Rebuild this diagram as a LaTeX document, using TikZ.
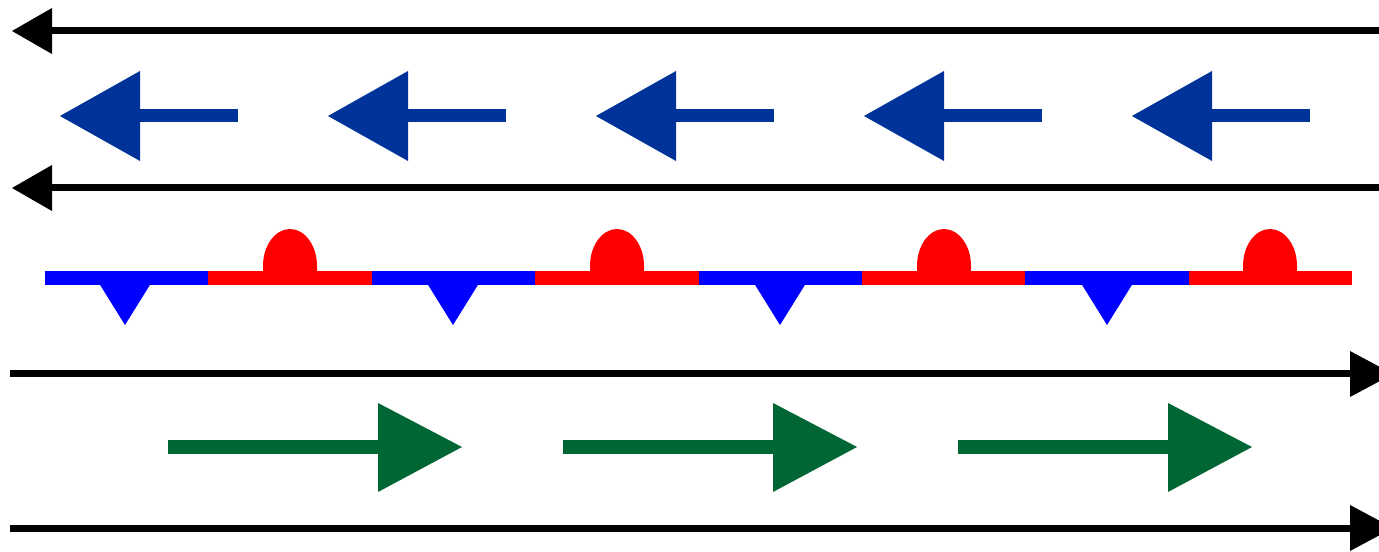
\documentclass[tikz,border=0pt]{standalone}
\definecolor{windblue}{RGB}{0,51,153}
\definecolor{windgreen}{RGB}{0,102,51}

\tikzset{every picture/.style={line width=0.75pt}}
\tikzset{
  trackline/.style={draw=black, line width=5.25},
  trackhead/.style={fill=black, draw opacity=0},
  blueshaft/.style={draw=windblue, line width=9.75},
  bluehead/.style={fill=windblue, draw opacity=0},
  greenshaft/.style={draw=windgreen, line width=9.75},
  greenhead/.style={fill=windgreen, draw opacity=0},
  coldseg/.style={draw=blue, line width=10.5},
  warmseg/.style={draw=red, line width=10.5},
  coldmark/.style={fill=blue, draw opacity=0},
  warmmark/.style={fill=red, draw opacity=0}
}

\begin{document}
\begin{tikzpicture}[x=0.75pt,y=0.75pt,yscale=-1,xscale=1]
\useasboundingbox (0,0) rectangle (1379,552);
\clip (0,0) rectangle (1379,552);

%Straight Lines: top track
\coordinate (trackA) at (1385,31);
\coordinate (trackAend) at (50,31);
\draw [trackline] (trackA) -- (trackAend) ;
\draw [trackhead] (12,31) -- (52,8) -- (52,54) -- cycle ;
%Straight Lines: second track
\coordinate (trackB) at (1385,188);
\coordinate (trackBend) at (50,188);
\draw [trackline] (trackB) -- (trackBend) ;
\draw [trackhead] (12,188) -- (52,165) -- (52,211) -- cycle ;
%Straight Lines: third track
\coordinate (trackC) at (10,374);
\coordinate (trackCend) at (1352,374);
\draw [trackline] (trackC) -- (trackCend) ;
\draw [trackhead] (1393,374) -- (1350,351) -- (1350,397) -- cycle ;
%Straight Lines: bottom track
\coordinate (trackD) at (10,528);
\coordinate (trackDend) at (1352,528);
\draw [trackline] (trackD) -- (trackDend) ;
\draw [trackhead] (1393,528) -- (1350,505) -- (1350,551) -- cycle ;

%Blue arrows
\draw [blueshaft] (238,116) -- (136,116) ;
\draw [bluehead] (60,116) -- (140,71) -- (140,161) -- cycle ;
\draw [blueshaft] (506,116) -- (404,116) ;
\draw [bluehead] (328,116) -- (408,71) -- (408,161) -- cycle ;
\draw [blueshaft] (774,116) -- (672,116) ;
\draw [bluehead] (596,116) -- (676,71) -- (676,161) -- cycle ;
\draw [blueshaft] (1042,116) -- (940,116) ;
\draw [bluehead] (864,116) -- (944,71) -- (944,161) -- cycle ;
\draw [blueshaft] (1310,116) -- (1208,116) ;
\draw [bluehead] (1132,116) -- (1212,71) -- (1212,161) -- cycle ;

%Front segments
\draw [coldseg] (45,278) -- (208.4,278) ;
\draw [warmseg] (208.4,278) -- (371.8,278) ;
\draw [coldseg] (371.8,278) -- (535.1,278) ;
\draw [warmseg] (535.1,278) -- (698.5,278) ;
\draw [coldseg] (698.5,278) -- (861.9,278) ;
\draw [warmseg] (861.9,278) -- (1025.3,278) ;
\draw [coldseg] (1025.3,278) -- (1188.6,278) ;
\draw [warmseg] (1188.6,278) -- (1352,278) ;

%Shape: Triangle (cold)
\draw [coldmark] (97,280) -- (153,280) -- (125,325) -- cycle ;
\draw [coldmark] (425,280) -- (481,280) -- (453,325) -- cycle ;
\draw [coldmark] (752,280) -- (808,280) -- (780,325) -- cycle ;
\draw [coldmark] (1079,280) -- (1135,280) -- (1107,325) -- cycle ;
%Shape: Dome (warm)
\draw [warmmark] (263,276) -- (263,266) arc [start angle=180, end angle=360, x radius=27, y radius=37] -- (317,276) -- cycle ;
\draw [warmmark] (590,276) -- (590,266) arc [start angle=180, end angle=360, x radius=27, y radius=37] -- (644,276) -- cycle ;
\draw [warmmark] (917,276) -- (917,266) arc [start angle=180, end angle=360, x radius=27, y radius=37] -- (971,276) -- cycle ;
\draw [warmmark] (1243,276) -- (1243,266) arc [start angle=180, end angle=360, x radius=27, y radius=37] -- (1297,276) -- cycle ;

%Green arrows
\draw [greenshaft] (168,447) -- (382,447) ;
\draw [greenhead] (462,447) -- (378,403) -- (378,492) -- cycle ;
\draw [greenshaft] (563,447) -- (777,447) ;
\draw [greenhead] (857,447) -- (773,403) -- (773,492) -- cycle ;
\draw [greenshaft] (958,447) -- (1172,447) ;
\draw [greenhead] (1252,447) -- (1168,403) -- (1168,492) -- cycle ;

\end{tikzpicture}
\end{document}
